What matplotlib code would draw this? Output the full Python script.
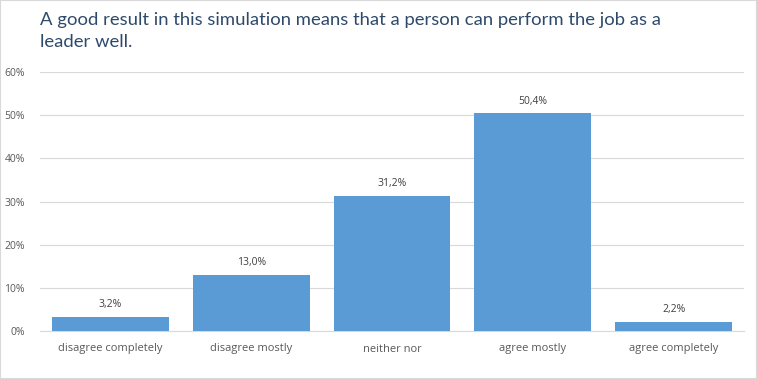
import matplotlib.pyplot as plt
from matplotlib.patches import Rectangle
from matplotlib.ticker import FuncFormatter

categories = ['disagree completely', 'disagree mostly', 'neither nor', 'agree mostly', 'agree completely']
values = [3.2, 13.0, 31.2, 50.4, 2.2]
title = 'A good result in this simulation means that a person can perform the job as a\nleader well.'

fig = plt.figure(figsize=(7.57, 3.79), dpi=100)
ax = fig.add_axes([40/757, 1 - 331/379, 704/757, 259/379])

x = range(len(categories))
ax.bar(x, values, width=0.83, color='#5B9BD5', zorder=3)
for i, v in zip(x, values):
    ax.text(i, v + 1.6, '{:.1f}%'.format(v).replace('.', ','), ha='center', va='bottom',
            fontsize=7.5, color='#404040', family='Open Sans')

ax.set_xlim(-0.5, len(categories) - 0.5)
ax.set_ylim(0, 60)
ax.set_yticks(range(0, 61, 10))
ax.yaxis.set_major_formatter(FuncFormatter(lambda v, p: '{:d}%'.format(int(v))))
ax.set_xticks(list(x))
ax.set_xticklabels(categories)
ax.grid(axis='y', color='#D9D9D9', linewidth=0.8, zorder=0)
for s in ['top', 'right', 'left']:
    ax.spines[s].set_visible(False)
ax.spines['bottom'].set_color('#D9D9D9')
ax.tick_params(axis='both', length=0, colors='#595959')
ax.tick_params(axis='y', labelsize=7.5, pad=11)
ax.tick_params(axis='x', labelsize=8, pad=9)
for lab in ax.get_xticklabels() + ax.get_yticklabels():
    lab.set_family('Open Sans')

fig.text(40/757, 1 - 12/379, title, ha='left', va='top', fontsize=13.3,
         color='#2E4A6B', family='Lato', linespacing=1.45)

fig.patches.append(Rectangle((0, 0), 1, 1, transform=fig.transFigure, fill=False,
                             edgecolor='#D9D9D9', linewidth=1.5))

fig.savefig('out.png', dpi=100)
